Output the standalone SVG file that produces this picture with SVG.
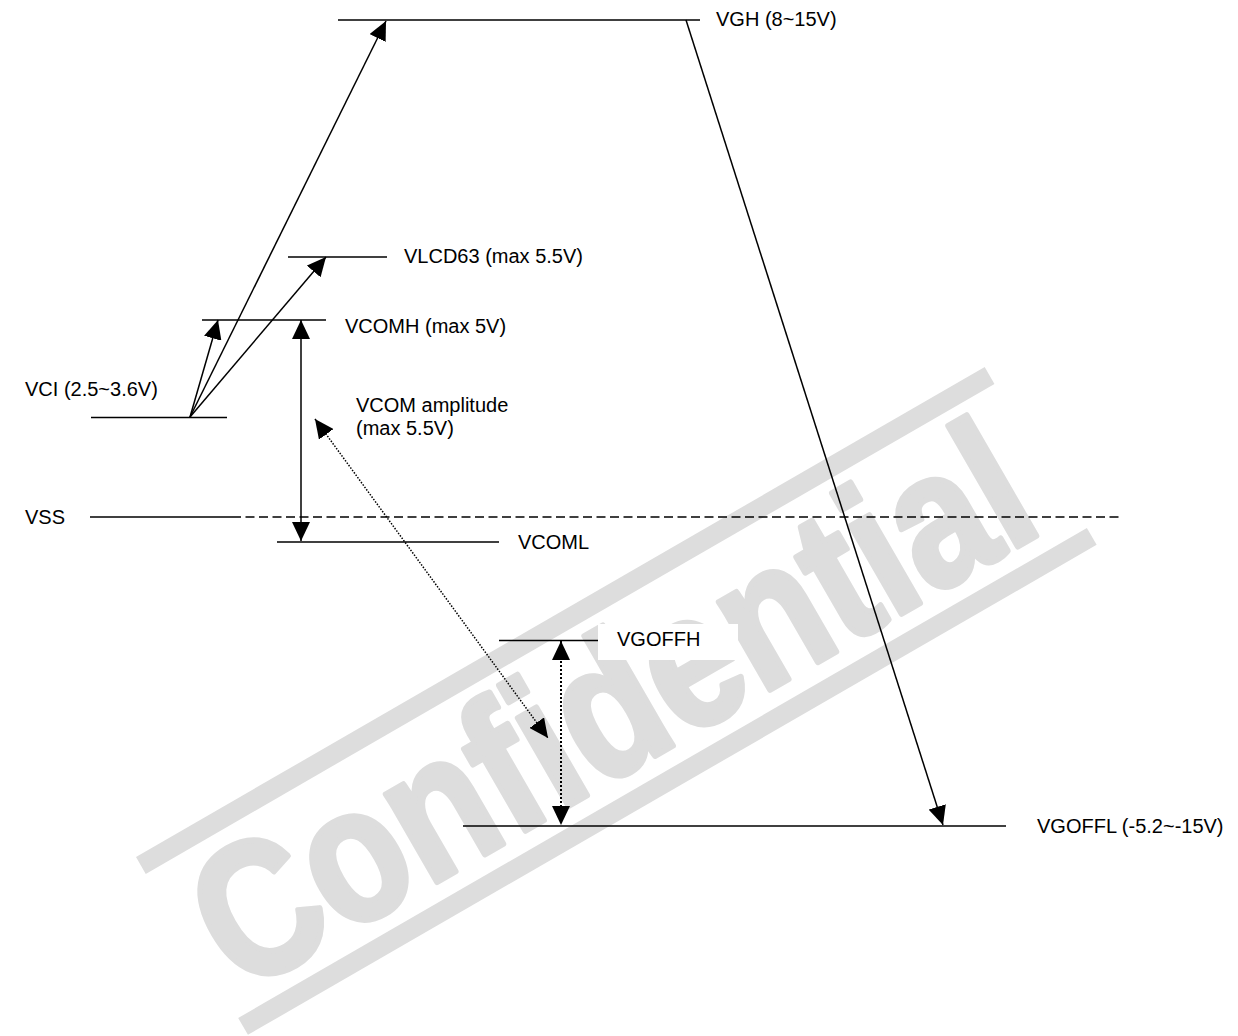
<svg xmlns="http://www.w3.org/2000/svg" width="1238" height="1036" viewBox="0 0 1238 1036">
<defs>
<marker id="ah" markerUnits="userSpaceOnUse" markerWidth="20" markerHeight="18" refX="19" refY="9" orient="auto-start-reverse" viewBox="0 0 20 18"><path d="M0,0 L19,9 L0,18 z" fill="#000"/></marker>
</defs>
<style>
.lvl{stroke:#000;stroke-width:1.5;fill:none}
.lbl{font-family:"Liberation Sans",Arial,sans-serif;font-size:20px;fill:#000}
.conn{stroke:#000;stroke-width:1.5;fill:none}
.dot{stroke-dasharray:1.5 1.5}
.dot2{stroke-width:2;stroke-dasharray:2 2}
.wm{fill:#dddddd}
</style>
<rect width="1238" height="1036" fill="#fff"/>
<g id="watermark" transform="translate(136,857) rotate(-30)">
<rect class="wm" x="0" y="0" width="980" height="19.5"/>
<rect class="wm" x="8" y="190.5" width="980" height="19.5"/>
<text x="22" y="172" font-family="Liberation Sans, Arial, sans-serif" font-weight="bold" font-size="192" fill="#dddddd" stroke="#dddddd" stroke-width="6" stroke-linejoin="round" textLength="930" lengthAdjust="spacingAndGlyphs">Confidential</text>
</g>
<g id="VGH"><line class="lvl" x1="338" y1="20" x2="700" y2="20"/><text class="lbl" x="716" y="26">VGH (8~15V)</text></g>
<g id="VLCD63"><line class="lvl" x1="288" y1="257" x2="387" y2="257"/><text class="lbl" x="404" y="263">VLCD63 (max 5.5V)</text></g>
<g id="VCOMH"><line class="lvl" x1="202" y1="320" x2="326" y2="320"/><text class="lbl" x="345" y="333">VCOMH (max 5V)</text></g>
<g id="VCI"><line class="lvl" x1="91" y1="417.5" x2="227" y2="417.5"/><text class="lbl" x="25" y="396">VCI (2.5~3.6V)</text></g>
<g id="VSS"><line class="lvl" x1="90" y1="517" x2="232" y2="517"/><line class="lvl" x1="232" y1="517" x2="1120" y2="517" stroke-dasharray="9 4.5"/><text class="lbl" x="25" y="524">VSS</text></g>
<g id="VCOML"><line class="lvl" x1="277" y1="542" x2="499" y2="542"/><text class="lbl" x="518" y="549">VCOML</text></g>
<g id="VGOFFH"><line class="lvl" x1="499" y1="640.5" x2="598" y2="640.5"/><rect x="598" y="624" width="140" height="36" fill="#fff"/><text class="lbl" x="617" y="646">VGOFFH</text></g>
<g id="VGOFFL"><line class="lvl" x1="463" y1="826" x2="1006" y2="826"/><text class="lbl" x="1037" y="833">VGOFFL (-5.2~-15V)</text></g>
<g id="VCOMAMP"><text class="lbl" x="356" y="412">VCOM amplitude</text><text class="lbl" x="356" y="435">(max 5.5V)</text></g>
<g id="connectors">
<line class="conn" x1="190" y1="417" x2="386" y2="21" marker-end="url(#ah)"/>
<line class="conn" x1="190" y1="417" x2="326" y2="257" marker-end="url(#ah)"/>
<line class="conn" x1="190" y1="417" x2="218" y2="320" marker-end="url(#ah)"/>
<line class="conn" x1="301" y1="320" x2="301" y2="541" marker-start="url(#ah)" marker-end="url(#ah)"/>
<line class="conn dot" x1="315" y1="419" x2="548" y2="738" marker-start="url(#ah)" marker-end="url(#ah)"/>
<line class="conn dot2" x1="561" y1="641" x2="561" y2="825" marker-start="url(#ah)" marker-end="url(#ah)"/>
<line class="conn" x1="686" y1="20" x2="943" y2="825" marker-end="url(#ah)"/>
</g>
</svg>
